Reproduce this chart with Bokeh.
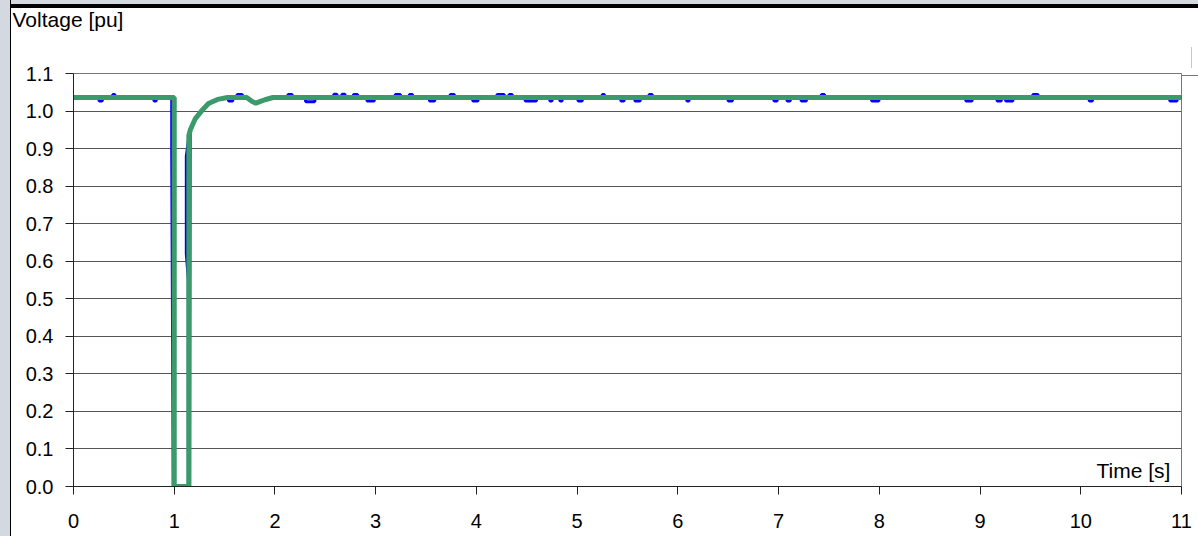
from bokeh.plotting import figure
from bokeh.models import Label, FixedTicker, NumeralTickFormatter, Title
from bokeh.embed import file_html
from bokeh.resources import INLINE

# ---------------- data ----------------
x_ticks = [0, 1, 2, 3, 4, 5, 6, 7, 8, 9, 10, 11]
y_ticks = [0.0, 0.1, 0.2, 0.3, 0.4, 0.5, 0.6, 0.7, 0.8, 0.9, 1.0, 1.1]

steady = 1.036

green_t = [0.0, 1.0, 1.0, 1.145, 1.145, 1.16, 1.21, 1.28, 1.34, 1.43, 1.53,
           1.72, 1.77, 1.81, 1.85, 1.90, 1.98, 11.0]
green_v = [1.036, 1.036, 0.0, 0.0, 0.935, 0.95, 0.98, 1.003, 1.02, 1.031, 1.036,
           1.036, 1.026, 1.021, 1.025, 1.030, 1.036, 1.036]

red_t = [0.0, 1.0, 1.0, 1.158, 1.165, 1.18, 1.21, 1.28, 1.34, 1.43, 1.53,
         1.72, 1.77, 1.81, 1.85, 1.90, 1.98, 11.0]
red_v = [1.036, 1.036, 0.0, 0.0, 0.955, 0.955, 0.98, 1.003, 1.02, 1.031, 1.036,
         1.036, 1.026, 1.021, 1.025, 1.030, 1.036, 1.036]

blue_base_t = [0.0, 0.975, 0.975, 0.99, 1.14, 1.14, 1.12, 1.12, 1.145, 1.16, 1.21,
               1.28, 1.34, 1.43, 1.53, 1.72, 1.77, 1.81, 1.85, 1.90, 1.98, 11.0]
blue_base_v = [1.036, 1.036, 0.89, 0.0, 0.0, 0.55, 0.62, 0.88, 0.93, 0.95, 0.98,
               1.003, 1.02, 1.031, 1.036, 1.036, 1.026, 1.021, 1.025, 1.030, 1.036, 1.036]

# small fluctuations of the blue trace: centre time, offset, duration
blip_t = [0.27, 0.40, 0.81, 1.56, 1.65, 2.15, 2.35, 2.60, 2.68, 2.80, 2.95, 3.22,
          3.35, 3.56, 3.76, 3.99, 4.24, 4.34, 4.54, 4.74, 4.84, 5.03, 5.26, 5.45,
          5.60, 5.73, 6.10, 6.52, 6.97, 7.10, 7.25, 7.44, 7.96, 8.89, 9.19, 9.29,
          9.55, 10.10, 10.92]
blip_dv = [-0.009, 0.008, -0.009, -0.009, 0.008, 0.008, -0.011, 0.009, 0.009, 0.008,
           -0.009, 0.008, 0.008, -0.009, 0.008, -0.009, 0.008, 0.008, -0.009, -0.009,
           -0.009, -0.009, 0.008, -0.009, -0.009, 0.008, -0.009, -0.009, -0.009,
           -0.009, -0.009, 0.008, -0.009, -0.009, -0.009, -0.009, 0.008, -0.009, -0.009]
blip_w = [0.04, 0.03, 0.03, 0.05, 0.06, 0.05, 0.10, 0.04, 0.04, 0.05, 0.08, 0.06,
          0.04, 0.06, 0.05, 0.06, 0.08, 0.04, 0.12, 0.03, 0.03, 0.05, 0.03, 0.04,
          0.06, 0.04, 0.03, 0.05, 0.04, 0.04, 0.06, 0.04, 0.08, 0.07, 0.05, 0.08,
          0.06, 0.04, 0.08]

# build blue trace: insert each blip before the first base point that lies after it
pts = list(zip(blue_base_t, blue_base_v))
for tc, dv, w in zip(blip_t, blip_dv, blip_w):
    a, b = tc - w / 2, tc + w / 2
    k = next(i for i, q in enumerate(pts) if q[0] > b)
    pts[k:k] = [(a, steady), (a + 0.005, steady + dv), (b - 0.005, steady + dv), (b, steady)]
blue_t = [q[0] for q in pts]
blue_v = [q[1] for q in pts]

FONT = "Liberation Sans"

p = figure(width=1198, height=536, x_range=(0, 11), y_range=(0, 1.1),
           output_backend="svg", toolbar_location=None, title=None,
           min_border_left=73, min_border_right=17, min_border_top=73,
           min_border_bottom=50, background_fill_color="white",
           border_fill_color=None)

p.styles = {
    "background": (
        "linear-gradient(#d4d8e0,#d4d8e0) 0 0 / 10px 100% no-repeat, "
        "linear-gradient(#000,#000) 10px 0 / 1px 100% no-repeat, "
        "linear-gradient(#000,#000) 10px 4px / 100% 4px no-repeat, "
        "linear-gradient(#d4d8e0,#d4d8e0) 0 0 / 100% 4px no-repeat, "
        "linear-gradient(#c8c8c8,#c8c8c8) 1191px 47px / 1px 21px no-repeat, "
        "linear-gradient(#777,#777) 1181px 75px / 17px 1px no-repeat, "
        "#ffffff"
    )
}

p.line(blue_t, blue_v, line_color="#0000ff", line_width=3)
p.line(red_t, red_v, line_color="#ff0000", line_width=2)
p.line(green_t, green_v, line_color="#3a9a6a", line_width=5)

# axes
p.xaxis.ticker = FixedTicker(ticks=x_ticks)
p.yaxis.ticker = FixedTicker(ticks=y_ticks)
p.yaxis.formatter = NumeralTickFormatter(format="0.0")
for ax in (p.xaxis, p.yaxis):
    ax.axis_line_color = "#222222"
    ax.major_tick_line_color = "#222222"
    ax.major_tick_in = 0
    ax.major_tick_out = 8
    ax.minor_tick_line_color = None
    ax.major_label_text_font = FONT
    ax.major_label_text_font_size = "20px"
    ax.major_label_text_color = "#000000"
p.yaxis.major_label_standoff = 12
p.xaxis.major_label_standoff = 19

p.xgrid.visible = False
p.ygrid.ticker = FixedTicker(ticks=y_ticks)
p.ygrid.grid_line_color = "#555555"
p.ygrid.grid_line_width = 1
p.outline_line_color = "#777777"

# titles: a blank spacer next to the frame, then the axis caption above it
p.add_layout(Title(text=" ", text_font=FONT, text_font_size="23px",
                   text_color="white"), "above")
p.add_layout(Title(text="Voltage [pu]", align="left", offset=-61,
                   text_font=FONT, text_font_size="21px",
                   text_font_style="normal", text_color="black"), "above")

p.add_layout(Label(x=10.89, y=0.013, text="Time [s]", text_baseline="bottom",
                   text_align="right", text_font=FONT, text_font_size="21px",
                   text_color="black"))

open("out.html", "w").write(file_html(p, INLINE))
